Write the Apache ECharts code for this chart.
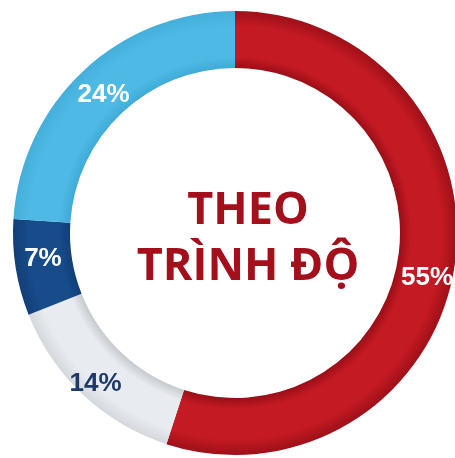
<!DOCTYPE html>
<html><head><meta charset="utf-8">
<script src="https://cdn.jsdelivr.net/npm/echarts@6/dist/echarts.min.js"></script>
<style>html,body{margin:0;padding:0;background:#fff}#c{width:455px;height:458px}</style>
</head><body><div id="c"></div>
<script>
const categories = ['Red', 'Light gray', 'Dark blue', 'Light blue'];
const values = [55, 14, 7, 24];
const labels = ['55%', '14%', '7%', '24%'];
const titleLines = ['THEO', 'TRÌNH ĐỘ'];

const CX = 235, CY = 233, R0 = 165, R1 = 222;
function ring(cInner, cMid, cOuter) {
  const a = R0 / R1;
  return { type: 'radial', x: CX, y: CY, r: R1, global: true,
    colorStops: [
      { offset: 0, color: cInner }, { offset: a, color: cInner },
      { offset: a + 0.05, color: cMid }, { offset: 0.93, color: cMid },
      { offset: 1, color: cOuter }
    ] };
}
const colors = [
  ring('#9a0e17', '#c41a23', '#9e1018'),
  ring('#c6cad0', '#e8ebef', '#d4d8dd'),
  ring('#123f78', '#174b8a', '#123f78'),
  ring('#3fa9d8', '#4fb9e5', '#45afdc')
];
const labelColors = ['#ffffff', '#1d3a6b', '#ffffff', '#ffffff'];
const labelShift = [[-2, 14], [-5, 8], [2, -5], [3, 5]];

const chart = echarts.init(document.getElementById('c'));
chart.setOption({
  animation: false,
  title: {
    text: titleLines.join('\n'),
    left: 243, top: 178, textAlign: 'center',
    textStyle: { fontFamily: 'Open Sans', fontWeight: 'bold', fontSize: 45, lineHeight: 56, color: '#a3101b' }
  },
  series: [{
    type: 'pie', center: [CX, CY], radius: [R0, R1], startAngle: 90,
    clockwise: true, silent: true,
    label: { position: 'inside', fontFamily: 'Liberation Sans', fontWeight: 'bold', fontSize: 26 },
    labelLine: { show: false },
    data: categories.map((c, i) => ({
      name: c, value: values[i],
      itemStyle: { color: colors[i] },
      label: { formatter: labels[i], color: labelColors[i], offset: labelShift[i] }
    }))
  }]
});
</script></body></html>
